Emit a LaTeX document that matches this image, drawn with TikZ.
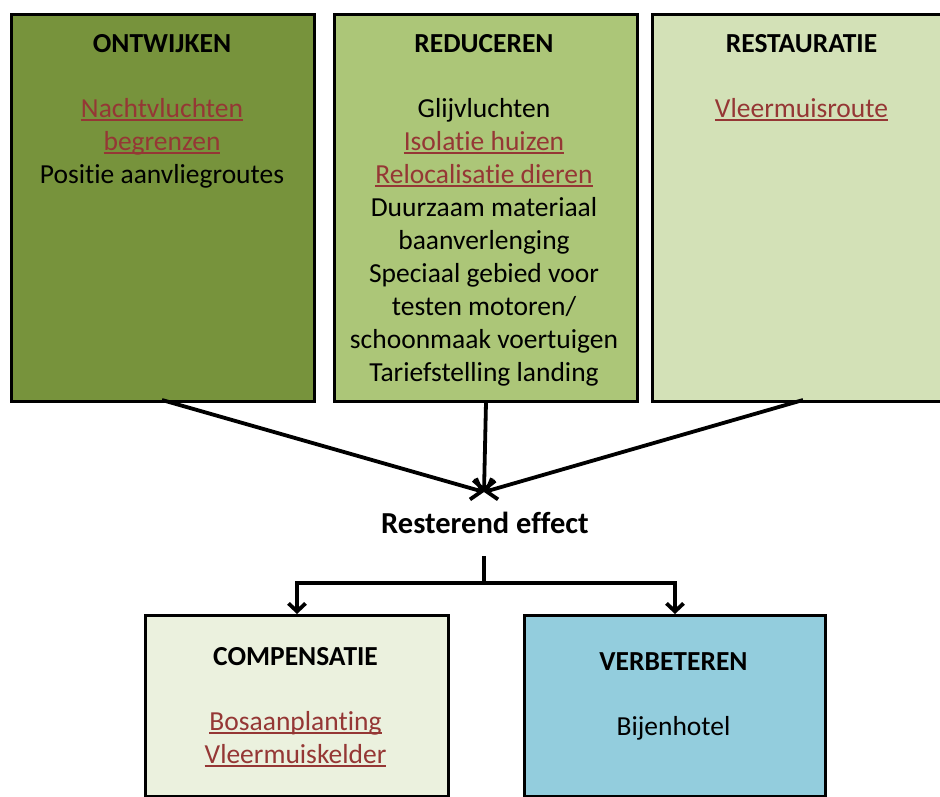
\documentclass[tikz,border=0pt]{standalone}
\usepackage{fontspec}
\setmainfont{Carlito}[Ligatures={NoCommon}]
\usetikzlibrary{arrows.meta}
\definecolor{cOnt}{HTML}{77933C}
\definecolor{cRed}{HTML}{ACC678}
\definecolor{cRes}{HTML}{D3E1B7}
\definecolor{cComp}{HTML}{EBF1DE}
\definecolor{cVerb}{HTML}{93CDDD}
\definecolor{cLink}{HTML}{953735}
\newcommand{\lnk}[1]{{\color{cLink}\setbox0\hbox{#1}\rlap{\rule[-3.8pt]{\wd0}{1.6pt}}\box0}}
\tikzset{
  box/.style={draw=black, line width=3pt, rectangle, inner sep=0pt, anchor=north west},
  txt/.style={anchor=base, inner sep=0pt, font=\fontsize{27.5}{33}\selectfont},
  ttl/.style={txt, font=\fontsize{27.5}{33}\selectfont\bfseries},
  conn/.style={line width=3.8pt, -{Straight Barb[length=9pt,width=22pt]}},
  conn2/.style={line width=3.8pt, -{Straight Barb[length=8pt,width=17pt]}},
  plain/.style={line width=3.8pt}
}
\begin{document}
\begin{tikzpicture}[x=1pt,y=-1pt]
\useasboundingbox (0,0) rectangle (940,796);
\clip (0,0) rectangle (940,796);
\fill[white] (0,0) rectangle (940,796);
% boxes
\node[box, fill=cOnt, minimum width=303pt, minimum height=387pt] (b1) at (10,12.5) {};
\node[box, fill=cRed, minimum width=303pt, minimum height=387pt] (b2) at (333,12.5) {};
\node[box, fill=cRes, minimum width=300pt, minimum height=387pt] (b3) at (651,12.5) {};
\node[box, fill=cComp, minimum width=303pt, minimum height=181pt] (b4) at (144,614) {};
\node[box, fill=cVerb, minimum width=301pt, minimum height=181pt] (b5) at (523,614) {};
% box 1 text
\node[ttl] (t1) at (162,52) {ONTWIJKEN};
\node[txt] (t1a) at (162,117) {\lnk{Nachtvluchten}};
\node[txt] (t1b) at (162,150) {\lnk{begrenzen}};
\node[txt] (t1c) at (162,183) {Positie aanvliegroutes};
% box 2 text
\node[ttl] (t2) at (484,52) {REDUCEREN};
\node[txt] (t2a) at (484,117) {Glijvluchten};
\node[txt] (t2b) at (484,150) {\lnk{Isolatie huizen}};
\node[txt] (t2c) at (484,183) {\lnk{Relocalisatie dieren}};
\node[txt] (t2d) at (484,216) {Duurzaam materiaal};
\node[txt] (t2e) at (484,249) {baanverlenging};
\node[txt] (t2f) at (484,282) {Speciaal gebied voor};
\node[txt] (t2g) at (484,315) {testen motoren/};
\node[txt] (t2h) at (484,348) {schoonmaak voertuigen};
\node[txt] (t2i) at (484,381) {Tariefstelling landing};
% box 3 text
\node[ttl] (t3) at (801.5,52) {RESTAURATIE};
\node[txt] (t3a) at (801.5,117) {\lnk{Vleermuisroute}};
% box 4 text
\node[ttl] (t4) at (295.5,665) {COMPENSATIE};
\node[txt] (t4a) at (295.5,730) {\lnk{Bosaanplanting}};
\node[txt] (t4b) at (295.5,763) {\lnk{Vleermuiskelder}};
% box 5 text
\node[ttl] (t5) at (673.5,670) {VERBETEREN};
\node[txt] (t5a) at (673.5,735) {Bijenhotel};
% middle
\node[ttl, font=\fontsize{30.5}{36}\selectfont\bfseries] (res) at (485,533) {Resterend effect};
\coordinate (m) at (484,492);
\coordinate (rs) at (484,556);
\coordinate (split) at (484,583);
\coordinate (s1) at (162,400);
\coordinate (s3) at (803,400);
% connectors
\draw[conn] (s1) -- (m);
\draw[conn] (b2.south) -- (m);
\draw[conn] (s3) -- (m);
\draw[plain] (rs) -- (split);
\draw[conn2] (split) -| (b4.north);
\draw[conn2] (split) -| (b5.north);
\end{tikzpicture}
\end{document}
